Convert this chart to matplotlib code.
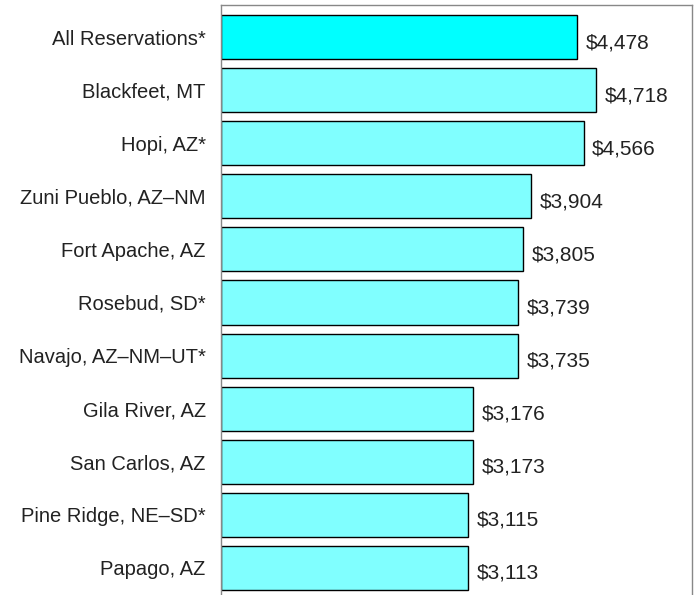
import matplotlib.pyplot as plt

reservations = ['All Reservations*', 'Blackfeet, MT', 'Hopi, AZ*', 'Zuni Pueblo, AZ-NM',
                'Fort Apache, AZ', 'Rosebud, SD*', 'Navajo, AZ-NM-UT*', 'Gila River, AZ',
                'San Carlos, AZ', 'Pine Ridge, NE-SD*', 'Papago, AZ']
income = [4478, 4718, 4566, 3904, 3805, 3739, 3735, 3176, 3173, 3115, 3113]

plt.rcParams['font.family'] = ['Liberation Sans', 'DejaVu Sans']

fig = plt.figure(figsize=(6.98, 5.95), dpi=100)
W, H = 698, 595
ax = fig.add_axes([221 / W, 1 - 600 / H, (692 - 221) / W, (600 - 5) / H])

colors = ['#00ffff'] + ['#80ffff'] * (len(income) - 1)
pos = range(len(income))
ax.barh(pos, income, height=0.83, color=colors, edgecolor='black', linewidth=1)

for i, v in enumerate(income):
    ax.text(v + 110, i + 0.1, '${:,}'.format(v), va='center', ha='left',
            fontsize=15, color='#222222')

ax.set_xlim(0, 5932)
ax.set_ylim(10.607, -0.607)
ax.set_yticks(list(pos))
ax.set_yticklabels([r.replace('-', '\u2013') for r in reservations], fontsize=14.5, color='#222222')
ax.tick_params(axis='y', length=0, pad=11)
ax.set_xticks([])
for s in ax.spines.values():
    s.set_color('#888888')
    s.set_linewidth(1)

fig.savefig('out.png', dpi=100)
